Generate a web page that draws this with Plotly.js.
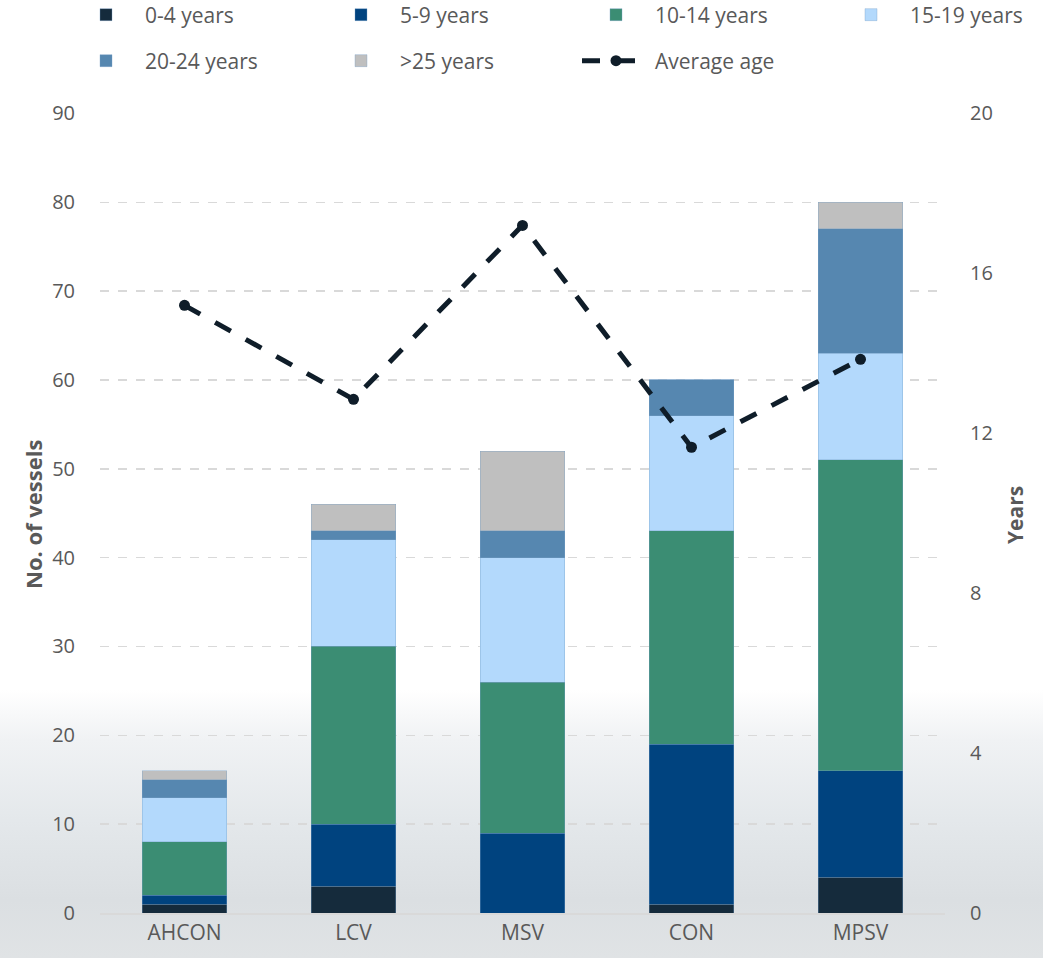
<!DOCTYPE html>
<html>
<head>
<meta charset="utf-8">
<script src="https://cdn.plot.ly/plotly-3.0.1.min.js"></script>
<style>
  html, body { margin: 0; padding: 0; }
  body {
    width: 1043px; height: 958px; overflow: hidden;
    background: linear-gradient(to bottom, #ffffff 0px, #ffffff 690px, #f0f2f4 740px, #e4e8eb 820px, #dbdfe2 900px, #e0e3e5 958px);
  }
  #chart { width: 1043px; height: 958px; }
</style>
</head>
<body>
<div id="chart"></div>
<script>
const categories = ["AHCON", "LCV", "MSV", "CON", "MPSV"];
const age0_4   = [1, 3, 0, 1, 4];
const age5_9   = [1, 7, 9, 18, 12];
const age10_14 = [6, 20, 17, 24, 35];
const age15_19 = [5, 12, 14, 13, 12];
const age20_24 = [2, 1, 3, 4, 14];
const age25p   = [1, 3, 9, 0, 3];
const averageAge = [15.2, 12.85, 17.2, 11.65, 13.85];

const seriesNames = ["0-4 years", "5-9 years", "10-14 years", "15-19 years", "20-24 years", ">25 years"];
const seriesData = [age0_4, age5_9, age10_14, age15_19, age20_24, age25p];
const seriesColors = ["#152b3c", "#00437f", "#3b8d73", "#b3d9fc", "#5687b0", "#bfbfbf"];
const leftTitle = "No. of vessels";
const rightTitle = "Years";

// legend slot positions (container fraction): [x, y]
const legendSlots = [
  [67 / 1043, 1 - 15 / 958], [322 / 1043, 1 - 15 / 958], [577 / 1043, 1 - 15 / 958], [832 / 1043, 1 - 15 / 958],
  [67 / 1043, 1 - 61 / 958], [322 / 1043, 1 - 61 / 958], [577 / 1043, 1 - 61 / 958]
];
const legendIds = ["legend", "legend2", "legend3", "legend4", "legend5", "legend6", "legend7"];

const traces = seriesData.map((vals, i) => ({
  type: "bar",
  name: seriesNames[i],
  x: categories,
  y: vals,
  marker: { color: seriesColors[i], line: { color: "rgba(120,160,200,0.6)", width: 0.6 } },
  legend: legendIds[i],
  hoverinfo: "skip"
}));

traces.push({
  type: "scatter",
  mode: "lines+markers",
  name: "Average age",
  x: categories,
  y: averageAge,
  yaxis: "y2",
  line: { color: "#0f1d29", width: 5, dash: "18px,17px" },
  marker: { color: "#0f1d29", size: 11, symbol: "circle" },
  legend: legendIds[6],
  hoverinfo: "skip"
});

const fontFam = "'Open Sans', 'DejaVu Sans', sans-serif";

const layout = {
  width: 1043, height: 958,
  paper_bgcolor: "rgba(0,0,0,0)",
  plot_bgcolor: "rgba(0,0,0,0)",
  margin: { l: 100, r: 98, t: 113, b: 45, autoexpand: false },
  barmode: "stack",
  bargap: 0.5,
  font: { family: fontFam, color: "#595959" },
  showlegend: true,
  xaxis: {
    type: "category",
    tickfont: { family: fontFam, size: 21, color: "#595959" },
    showgrid: false,
    showline: true, linecolor: "#d9d9d9", linewidth: 1.5,
    ticks: "", ticklen: 0
  },
  yaxis: {
    range: [0, 90.05], tick0: 0, dtick: 10,
    showgrid: true, gridcolor: "#d9d9d9", griddash: "dash", gridwidth: 1.5,
    zeroline: false,
    tickfont: { family: fontFam, size: 20, color: "#595959" },
    ticks: "outside", ticklen: 20, tickcolor: "rgba(0,0,0,0)"
  },
  yaxis2: {
    range: [0, 20.0111], tick0: 0, dtick: 4,
    overlaying: "y", side: "right",
    showgrid: false, zeroline: false,
    tickfont: { family: fontFam, size: 20, color: "#595959" },
    ticks: "outside", ticklen: 20, tickcolor: "rgba(0,0,0,0)"
  },
  annotations: [
    { text: "<b>" + leftTitle + "</b>", xref: "paper", yref: "paper", x: (33 - 100) / 845, y: 0.4975,
      xanchor: "center", yanchor: "middle", textangle: -90, showarrow: false,
      font: { family: fontFam, size: 22, color: "#595959" } },
    { text: "<b>" + rightTitle + "</b>", xref: "paper", yref: "paper", x: (1015 - 100) / 845, y: 0.4975,
      xanchor: "center", yanchor: "middle", textangle: -90, showarrow: false,
      font: { family: fontFam, size: 21, color: "#595959" } }
  ]
};

legendIds.forEach((id, k) => {
  layout[id] = {
    orientation: "v",
    xref: "container", yref: "container",
    x: legendSlots[k][0], y: legendSlots[k][1],
    xanchor: "left", yanchor: "middle",
    font: { family: fontFam, size: 21, color: "#595959" },
    bgcolor: "rgba(0,0,0,0)",
    itemwidth: 68
  };
});

Plotly.newPlot("chart", traces, layout, { displayModeBar: false, staticPlot: true });
</script>
</body>
</html>
